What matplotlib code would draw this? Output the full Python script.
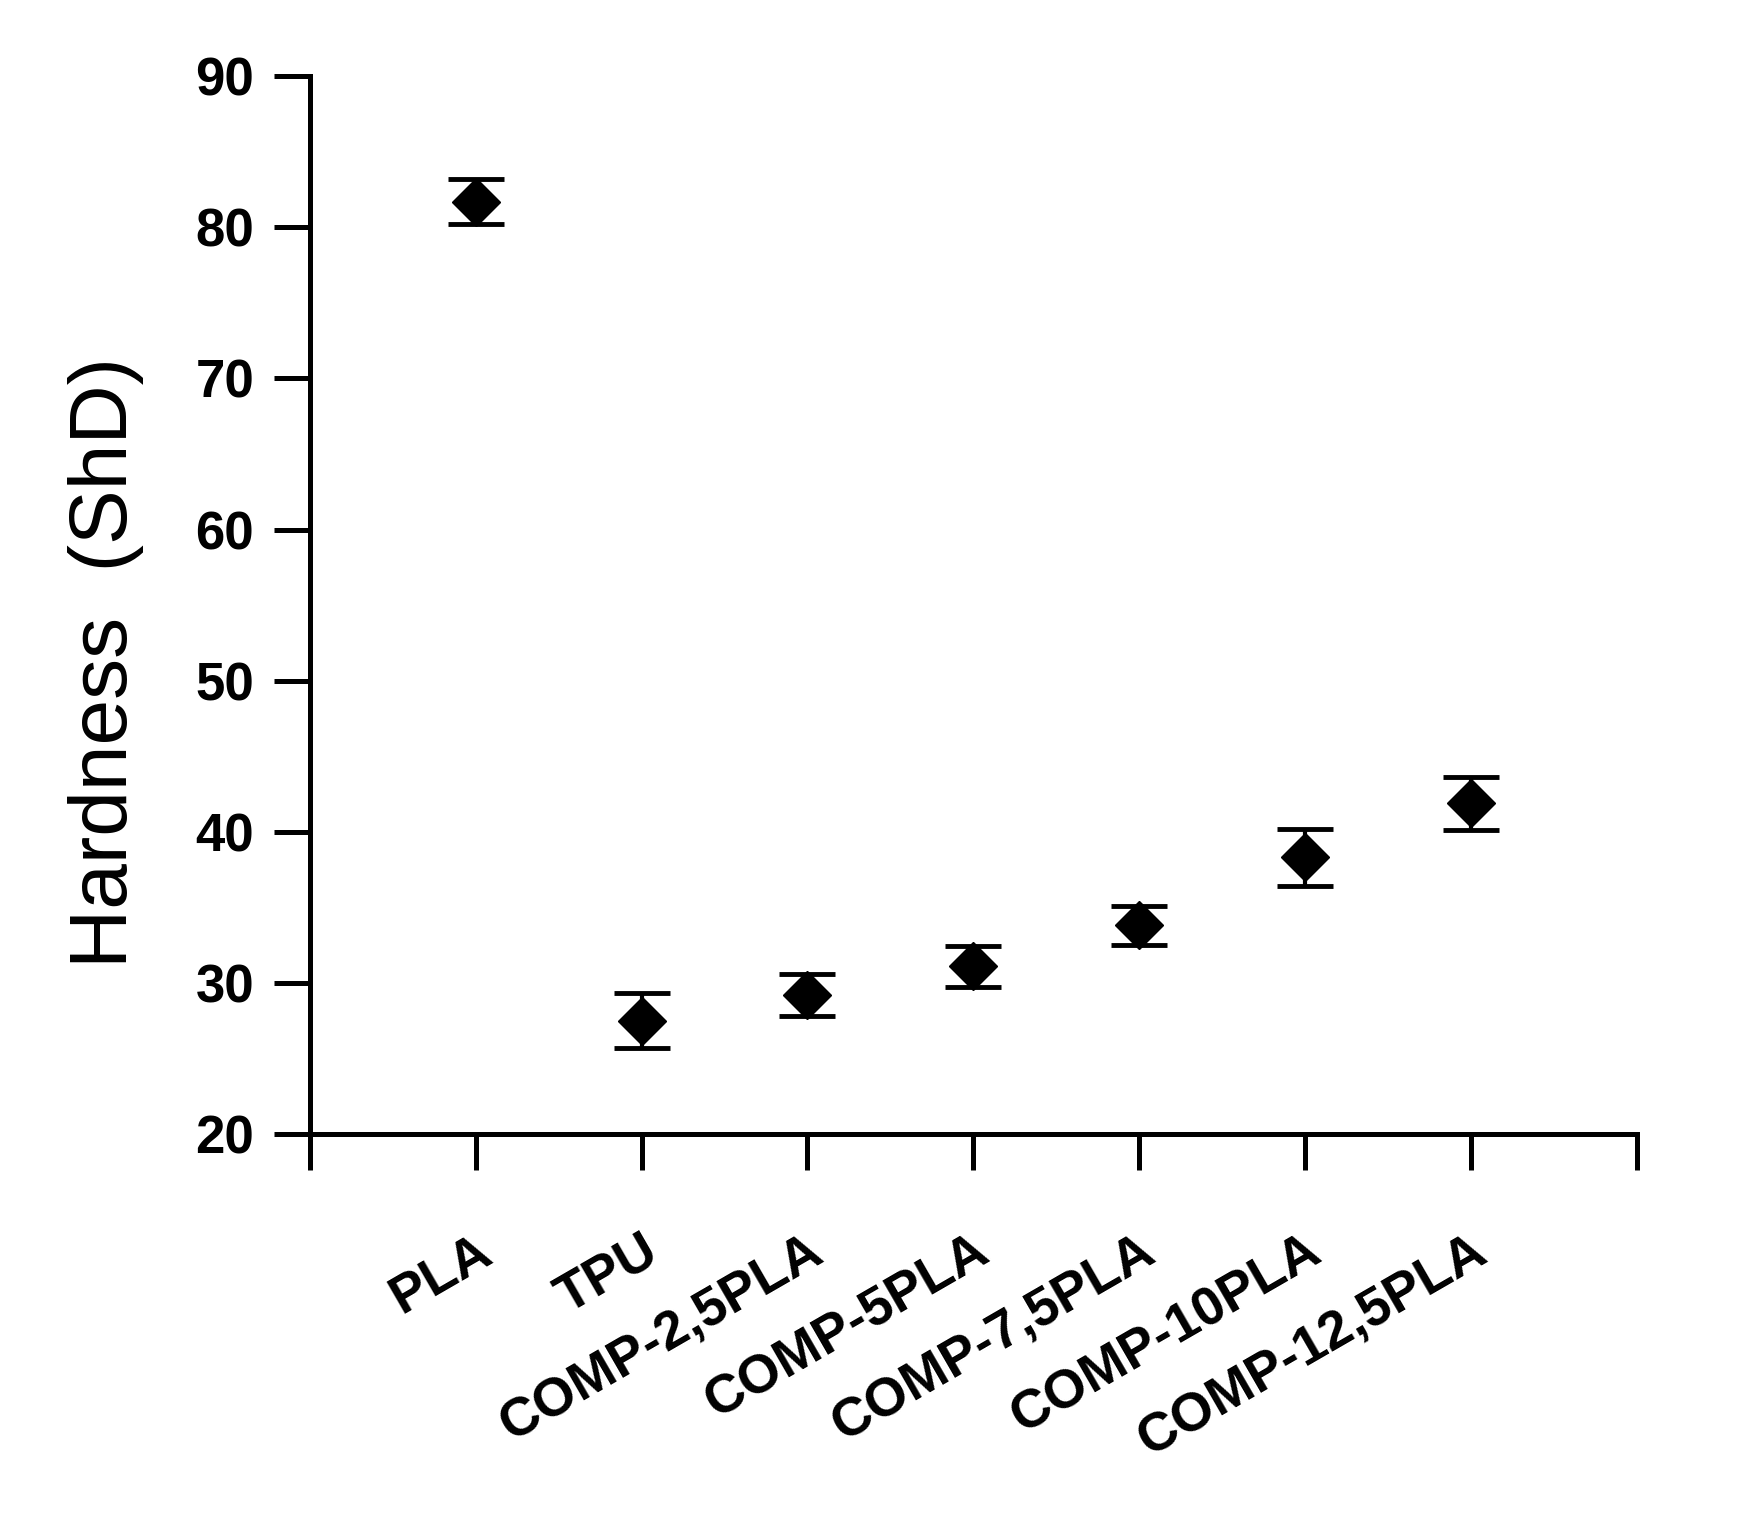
import numpy as np
import matplotlib
matplotlib.use("Agg")
from matplotlib import pyplot as plt

# Data
samples = ['PLA', 'TPU', 'COMP-2,5PLA', 'COMP-5PLA', 'COMP-7,5PLA', 'COMP-10PLA', 'COMP-12,5PLA']
hardness = [81.7, 27.5, 29.2, 31.1, 33.8, 38.3, 41.9]
hardness_err = [1.5, 1.8, 1.4, 1.35, 1.3, 1.9, 1.75]
y_ticks = [20, 30, 40, 50, 60, 70, 80, 90]

plt.rcParams['font.family'] = ['Liberation Sans', 'DejaVu Sans']

fig = plt.figure(figsize=(17.6, 15.23), dpi=100)
ax = fig.add_axes([0.176, 0.2554, 0.754, 0.6946])

x = np.arange(1, len(samples) + 1)
ax.errorbar(x, hardness, yerr=hardness_err, fmt='D', color='black',
            markersize=24, elinewidth=3, capsize=20, capthick=3.5)

ax.set_xlim(0, len(samples) + 1)
ax.set_ylim(20, 90)
ax.set_yticks(y_ticks)
ax.set_xticks(np.arange(0, len(samples) + 2))
ax.set_xticklabels([''] + samples + [''], rotation=30, ha='right',
                   rotation_mode='anchor', fontweight='bold', fontsize=39)
ax.set_yticklabels([str(v) for v in y_ticks], fontweight='bold', fontsize=38)

for side in ['top', 'right']:
    ax.spines[side].set_visible(False)
for side in ['left', 'bottom']:
    ax.spines[side].set_linewidth(3.6)
ax.tick_params(axis='both', direction='out', length=26, width=3.6)
ax.tick_params(axis='x', pad=40)
ax.tick_params(axis='y', pad=14)

# y label sits a bit below the axis centre in the original
fig.text(0.06, 0.565, 'Hardness  (ShD)', rotation=90, fontsize=59,
         ha='center', va='center')

fig.savefig('out.png', dpi=100)
